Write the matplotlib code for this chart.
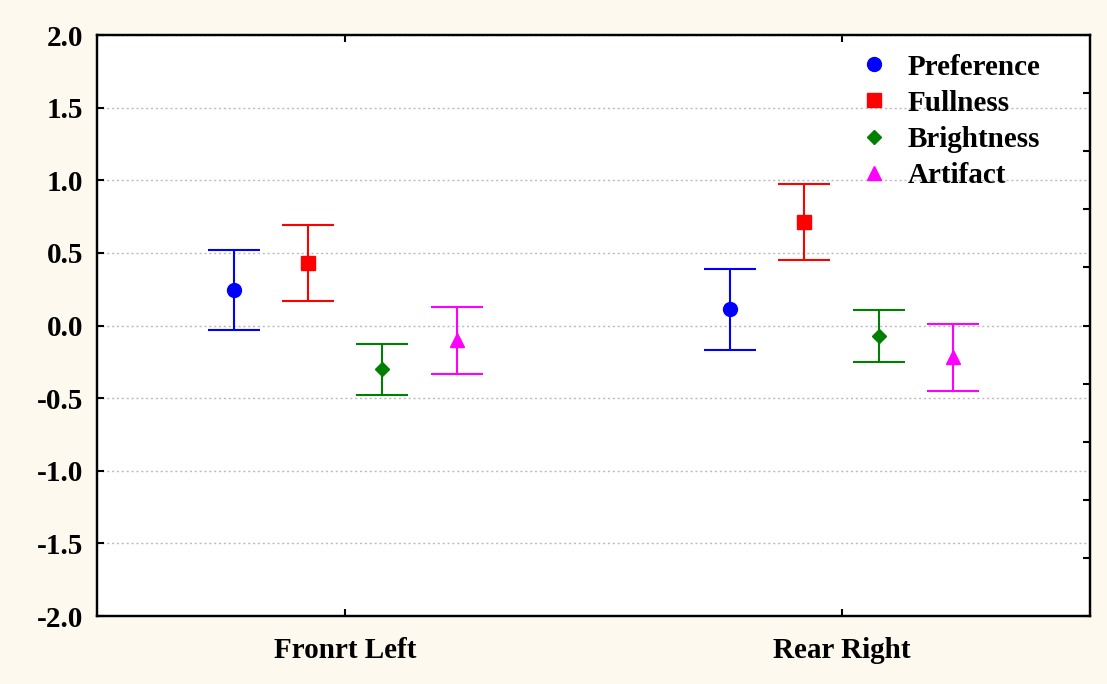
import numpy as np
import matplotlib
matplotlib.use("Agg")
import matplotlib.pyplot as plt
from matplotlib.lines import Line2D

# Data
conditions = ["Fronrt Left", "Rear Right"]
attributes = ["Preference", "Fullness", "Brightness", "Artifact"]
means = {
    "Preference": [0.245, 0.112],
    "Fullness":   [0.430, 0.713],
    "Brightness": [-0.300, -0.071],
    "Artifact":   [-0.103, -0.220],
}
errors = {
    "Preference": [0.278, 0.279],
    "Fullness":   [0.262, 0.263],
    "Brightness": [0.175, 0.178],
    "Artifact":   [0.230, 0.230],
}
y_ticks = [-2.0, -1.5, -1.0, -0.5, 0.0, 0.5, 1.0, 1.5, 2.0]

colors = {"Preference": "#0000ff", "Fullness": "#ff0000",
          "Brightness": "#008000", "Artifact": "#ff00ff"}
markers = {"Preference": ("o", 10), "Fullness": ("s", 10),
           "Brightness": ("D", 7), "Artifact": ("^", 10)}
offsets = [-0.225, -0.075, 0.075, 0.225]

bg = "#fdf9ee"
font = ["Liberation Serif", "DejaVu Serif"]
plt.rcParams["font.family"] = font
plt.rcParams["font.weight"] = "bold"
fs = 21

fig = plt.figure(figsize=(11.07, 6.84), dpi=100, facecolor=bg)
ax = fig.add_axes([0.0876, 0.0994, 0.8970, 0.8494])
ax.set_facecolor("white")

x = np.arange(len(conditions))
for attr, off in zip(attributes, offsets):
    m, ms = markers[attr]
    ax.errorbar(x + off, means[attr], yerr=errors[attr], fmt=m, ms=ms,
                color=colors[attr], ecolor=colors[attr], elinewidth=1.5,
                capsize=18.5, capthick=1.5, zorder=3)

ax.set_xlim(-0.5, 1.5)
ax.set_ylim(-2.0, 2.0)
ax.set_xticks(x)
ax.set_xticklabels(conditions, fontsize=fs, fontweight="bold")
ax.set_yticks(y_ticks)
ax.set_yticklabels([f"{v:.1f}" for v in y_ticks], fontsize=fs, fontweight="bold")
ax.tick_params(axis="both", direction="in", length=5, width=1.5,
               top=True, bottom=True, left=True, right=False)
ax.tick_params(axis="x", pad=15)
ax.tick_params(axis="y", pad=10)
ax.yaxis.grid(True, linestyle=(0, (1.5, 2)), color="#bbbbbb", linewidth=1.0)
ax.set_axisbelow(True)
for sp in ax.spines.values():
    sp.set_linewidth(1.6)

# Secondary scale on the right edge
ax2 = ax.twinx()
ax2.set_ylim(-2.0, 2.0)
ax2.set_yticks(np.round(np.arange(-2.0, 2.01, 0.4), 2))
ax2.set_yticklabels([])
ax2.tick_params(axis="y", direction="in", length=5, width=1.5)
for sp in ax2.spines.values():
    sp.set_linewidth(1.6)

handles = [Line2D([], [], linestyle="none", marker=markers[a][0],
                  markersize=markers[a][1], color=colors[a]) for a in attributes]
leg = ax.legend(handles, attributes, loc="upper left", frameon=False,
                prop={"family": font, "weight": "bold", "size": fs},
                handlelength=1.0, handletextpad=0.66, labelspacing=0.31,
                bbox_to_anchor=(0.756, 0.988), borderaxespad=0.0)

fig.savefig("out.png", dpi=100, facecolor=bg)
